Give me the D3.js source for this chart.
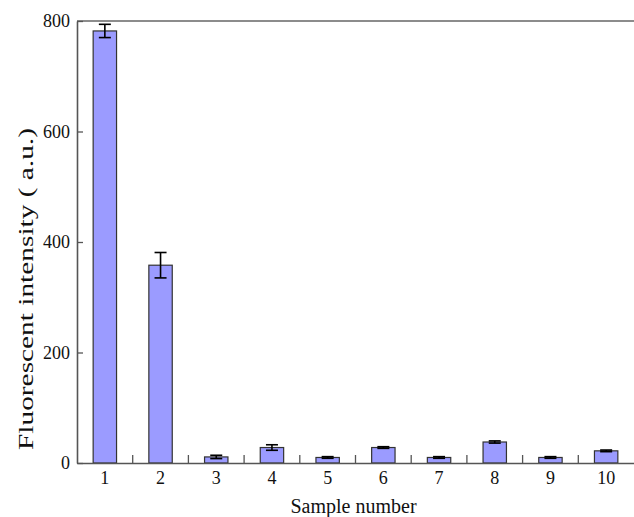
<!DOCTYPE html>
<html>
<head>
<meta charset="utf-8">
<script src="https://cdn.jsdelivr.net/npm/d3@7"></script>
<style>
  html, body { margin: 0; padding: 0; background: #fff; }
  svg { display: block; }
  svg text { font-family: 'Liberation Serif', 'Times New Roman', serif !important; fill: #111; }
</style>
</head>
<body>
<svg id="chart" width="634" height="517" font-family="Liberation Serif, serif"></svg>
<script>
const categories = ["1", "2", "3", "4", "5", "6", "7", "8", "9", "10"];
const values = [782, 358, 11, 28, 10, 28, 10, 38, 10, 22];
const errors = [12, 23, 3, 5, 1.5, 1.5, 1.5, 2, 1.5, 1.5];
const yTicks = [0, 200, 400, 600, 800];
const xTitle = "Sample number";
const yTitle = "Fluorescent intensity ( a.u.)";

(function () {
const svg = d3.select("#chart");
const mLeft = 77, mRight = 634, mTop = 21, mBottom = 463;
const serif = "'Liberation Serif', 'Times New Roman', serif";

const x = d3.scaleBand().domain(categories).range([mLeft, mRight]).paddingInner(0.58).paddingOuter(0.29);
const y = d3.scaleLinear().domain([0, 800]).range([mBottom, mTop]);

const data = categories.map((c, i) => ({ c, v: values[i], e: errors[i] }));

// bars
svg.append("g").selectAll("rect").data(data).join("rect")
  .attr("x", d => x(d.c))
  .attr("y", d => y(d.v))
  .attr("width", x.bandwidth())
  .attr("height", d => y(0) - y(d.v))
  .attr("fill", "#9b9bff")
  .attr("stroke", "#333")
  .attr("stroke-width", 1.2);

// error bars
const capW = 12;
const eg = svg.append("g").attr("stroke", "#000").attr("stroke-width", 1.6);
data.forEach(d => {
  const cx = x(d.c) + x.bandwidth() / 2;
  eg.append("line").attr("x1", cx).attr("x2", cx).attr("y1", y(d.v + d.e)).attr("y2", y(d.v - d.e));
  eg.append("line").attr("x1", cx - capW / 2).attr("x2", cx + capW / 2).attr("y1", y(d.v + d.e)).attr("y2", y(d.v + d.e));
  eg.append("line").attr("x1", cx - capW / 2).attr("x2", cx + capW / 2).attr("y1", y(d.v - d.e)).attr("y2", y(d.v - d.e));
});

// top frame line
svg.append("line").attr("x1", mLeft).attr("x2", mRight).attr("y1", y(800)).attr("y2", y(800))
  .attr("stroke", "#666").attr("stroke-width", 1.6);

// y axis
const yAxis = svg.append("g").attr("transform", `translate(${mLeft},0)`)
  .call(d3.axisLeft(y).tickValues(yTicks).tickSizeInner(-6).tickSizeOuter(0).tickPadding(7).tickFormat(d3.format("d")));
yAxis.attr("font-family", serif).attr("font-size", 18);
yAxis.select(".domain").attr("stroke", "#555").attr("stroke-width", 1.6);
yAxis.selectAll(".tick line").attr("stroke", "#555").attr("stroke-width", 1.3);
yAxis.selectAll("text").attr("fill", "#111");

// x axis
const xAxis = svg.append("g").attr("transform", `translate(0,${mBottom})`)
  .call(d3.axisBottom(x).tickSize(0).tickPadding(8));
xAxis.attr("font-family", serif).attr("font-size", 18);
xAxis.select(".domain").attr("stroke", "#555").attr("stroke-width", 1.6);
xAxis.selectAll("text").attr("fill", "#111");

// boundary ticks (inward)
const bounds = categories.slice(0, -1).map(c => x(c) + x.bandwidth() / 2 + x.step() / 2);
svg.append("g").selectAll("line").data(bounds).join("line")
  .attr("x1", d => d).attr("x2", d => d)
  .attr("y1", mBottom).attr("y2", mBottom - 8)
  .attr("stroke", "#555").attr("stroke-width", 1.3);

// titles
svg.append("text").attr("x", (mLeft + mRight) / 2 - 2).attr("y", 513)
  .attr("text-anchor", "middle").attr("font-family", serif).attr("font-size", 20).text(xTitle);

svg.append("text").attr("transform", `translate(33,289) rotate(-90)`)
  .attr("text-anchor", "middle").attr("font-family", serif).attr("font-size", 21)
  .attr("textLength", 322).attr("lengthAdjust", "spacingAndGlyphs")
  .text(yTitle);
})();
</script>
</body>
</html>
